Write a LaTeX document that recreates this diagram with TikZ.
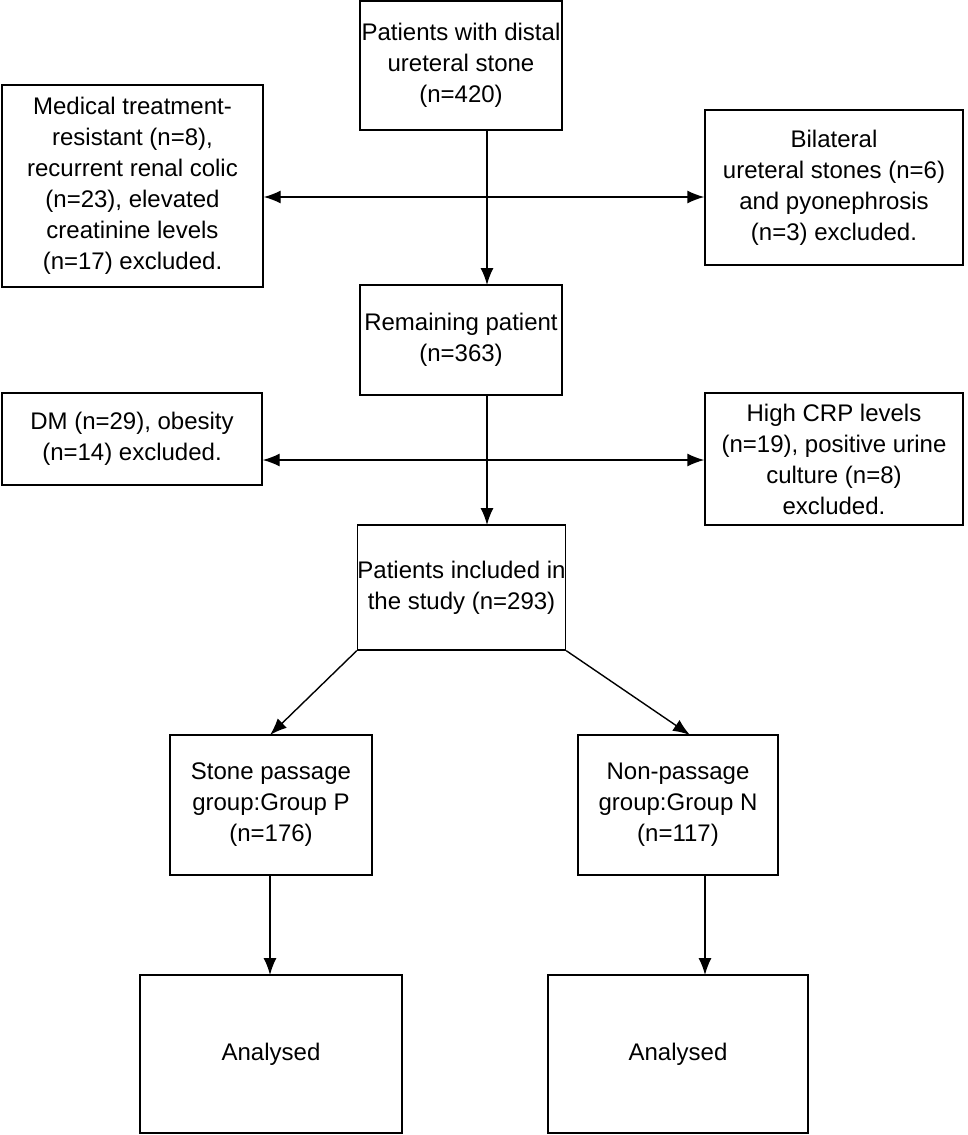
\documentclass[tikz,border=0pt]{standalone}
\usepackage{fontspec}
\setmainfont{Liberation Sans}
\usetikzlibrary{arrows.meta}
\begin{document}
\begin{tikzpicture}[x=1pt,y=-1pt,
 box/.style={draw,line width=1.4pt,align=center,font=\fontsize{24}{31}\selectfont,inner sep=0pt},
 arr/.style={line width=1.4pt,-{Latex[length=17pt,width=13pt]}},
 darr/.style={line width=1.4pt,{Latex[length=17pt,width=13pt]}-{Latex[length=17pt,width=13pt]}}]
\useasboundingbox (0,0) rectangle (968,1135);
\newcommand{\bx}[6]{\node[box,minimum width=#4-#2,minimum height=#5-#3] (#1) at ({(#2+#4)/2},{(#3+#5)/2}) {#6};}
\bx{top}{360}{1}{562}{130}{Patients with distal\\ureteral stone\\(n=420)}
\bx{l1}{2}{85}{263}{287}{Medical treatment-\\resistant (n=8),\\recurrent renal colic\\(n=23), elevated\\creatinine levels\\(n=17) excluded.}
\bx{r1}{705}{110}{963}{265}{Bilateral\\ureteral stones (n=6)\\and pyonephrosis\\(n=3) excluded.}
\bx{rem}{360}{285}{562}{395}{Remaining patient\\(n=363)}
\bx{l2}{2}{393}{262}{485}{DM (n=29), obesity\\(n=14) excluded.}
\bx{r2}{705}{393}{963}{525}{High CRP levels\\(n=19), positive urine\\culture (n=8)\\excluded.}
\bx{inc}{358}{525}{565}{650}{Patients included in\\the study (n=293)}
\bx{gp}{170}{735}{372}{875}{Stone passage\\group:Group P\\(n=176)}
\bx{gn}{578}{735}{778}{875}{Non-passage\\group:Group N\\(n=117)}
\bx{al}{140}{975}{402}{1133}{Analysed}
\bx{ar}{548}{975}{808}{1133}{Analysed}
\draw[arr] (487,130) -- (487,285);
\draw[darr] (l1.east |- 0,197) -- (r1.west |- 0,197);
\draw[arr] (487,395) -- (487,525);
\draw[darr] (l2.east |- 0,460) -- (r2.west |- 0,460);
\draw[arr] (inc.south west) -- (270,735);
\draw[arr] (inc.south east) -- (690,735);
\draw[arr] (270,875) -- (270,975);
\draw[arr] (705,875) -- (705,975);
\end{tikzpicture}
\end{document}
